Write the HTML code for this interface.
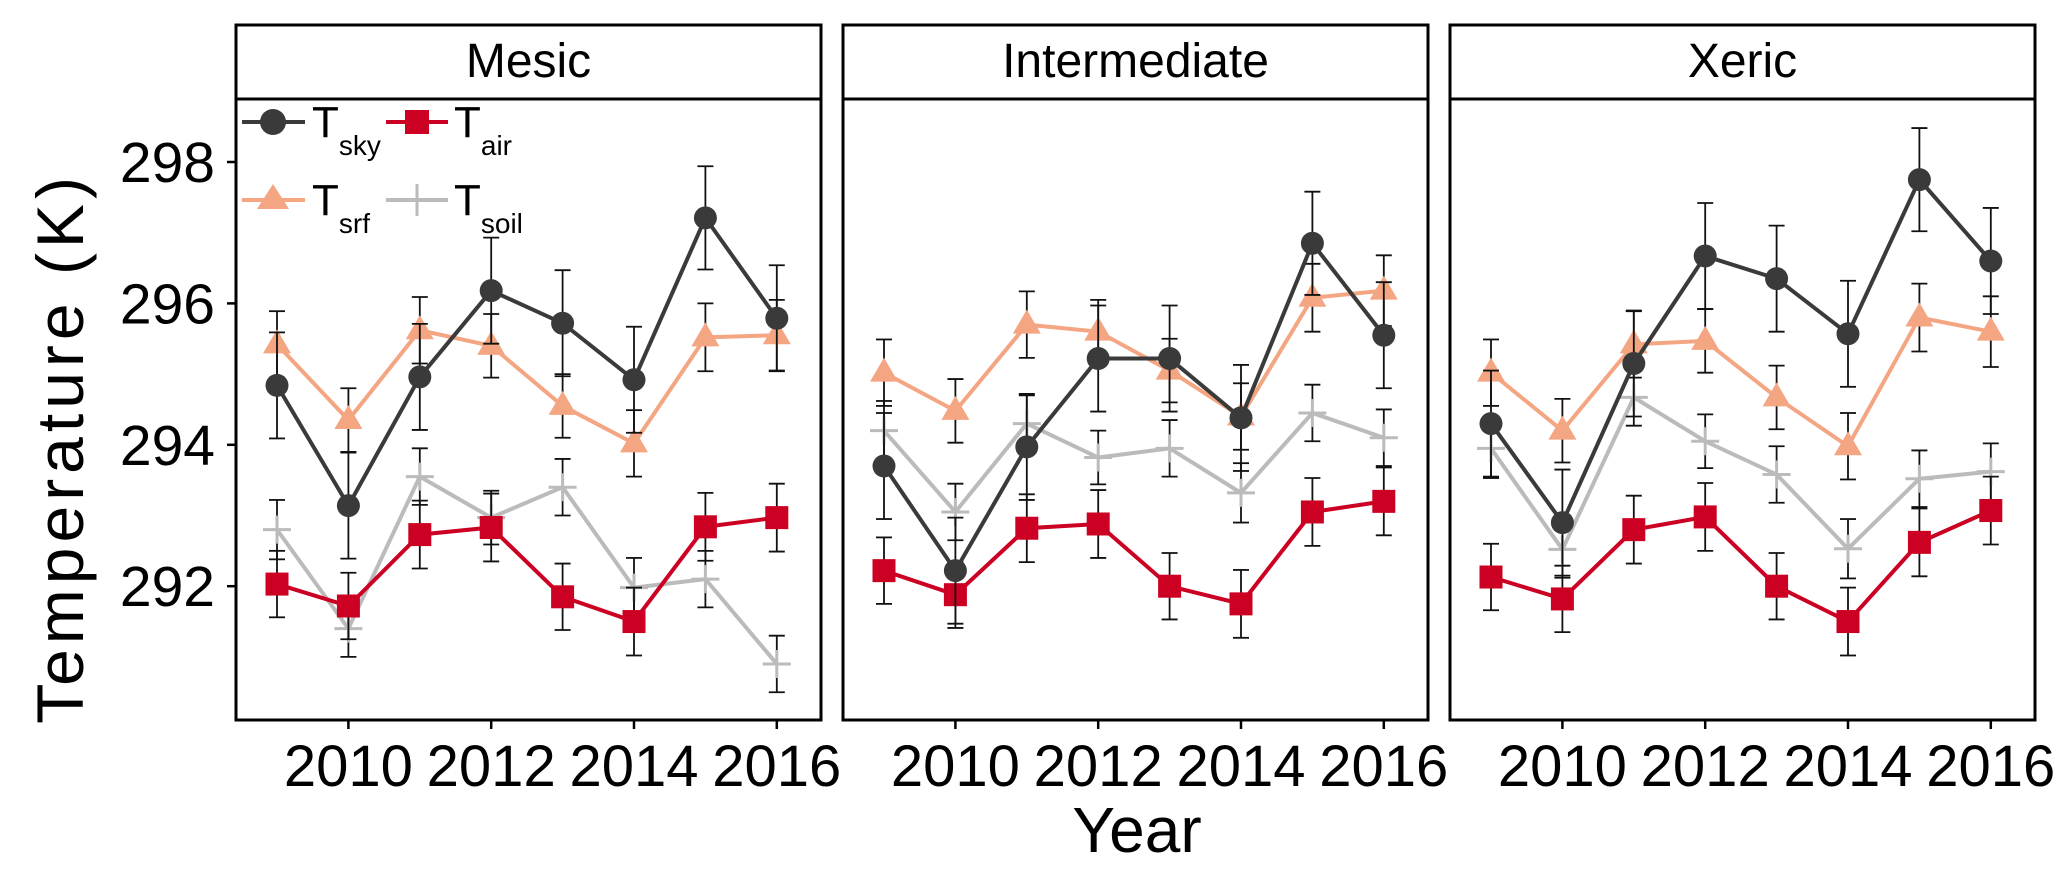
<!DOCTYPE html>
<html><head><meta charset="utf-8">
<style>
html,body{margin:0;padding:0;background:#fff;}
svg{display:block;font-family:"Liberation Sans",Arial,sans-serif;}
</style></head>
<body>
<svg id="chart" width="2067" height="871" viewBox="0 0 2067 871" xmlns="http://www.w3.org/2000/svg">
<g id="panels"></g>
<text x="60" y="448" font-size="66" text-anchor="middle" transform="rotate(-90 60 448)" dominant-baseline="central" letter-spacing="5">Temperature (K)</text>
<text x="1137" y="852" font-size="64" text-anchor="middle">Year</text>
<g>
  <g>
    <line x1="242" y1="122" x2="305" y2="122" stroke="#3a3a3a" stroke-width="4"/>
    <circle cx="273" cy="122" r="13" fill="#3a3a3a"/>
    <text x="312" y="137" font-size="44">T<tspan font-size="28" dy="18">sky</tspan></text>
  </g>
  <g>
    <line x1="386" y1="122" x2="448" y2="122" stroke="#cc0022" stroke-width="4"/>
    <rect x="405" y="110" width="24" height="24" fill="#cc0022"/>
    <text x="454" y="137" font-size="44">T<tspan font-size="28" dy="18">air</tspan></text>
  </g>
  <g>
    <line x1="242" y1="200" x2="305" y2="200" stroke="#f4a582" stroke-width="4"/>
    <polygon points="273,184 289,209 257,209" fill="#f4a582"/>
    <text x="312" y="215" font-size="44">T<tspan font-size="28" dy="18">srf</tspan></text>
  </g>
  <g>
    <line x1="386" y1="200" x2="448" y2="200" stroke="#bbbbbb" stroke-width="4"/>
    <line x1="417" y1="184" x2="417" y2="216" stroke="#bbbbbb" stroke-width="3"/>
    <text x="454" y="215" font-size="44">T<tspan font-size="28" dy="18">soil</tspan></text>
  </g>
</g>
</svg>
<script>
const years=[2009,2010,2011,2012,2013,2014,2015,2016];
const panelNames=["Mesic","Intermediate","Xeric"];
const yTicks=[292,294,296,298];
const xTicks=[2010,2012,2014,2016];
const mesicSky=[294.84,293.14,294.96,296.18,295.72,294.92,297.21,295.79];
const mesicSrf=[295.42,294.35,295.62,295.40,294.55,294.02,295.52,295.55];
const mesicAir=[292.03,291.72,292.73,292.83,291.85,291.50,292.84,292.97];
const mesicSoil=[292.80,291.40,293.55,292.97,293.40,291.98,292.10,290.90];
const interSky=[293.70,292.22,293.97,295.22,295.22,294.38,296.85,295.55];
const interSrf=[295.02,294.48,295.70,295.60,295.05,294.40,296.08,296.18];
const interAir=[292.22,291.88,292.82,292.88,292.00,291.75,293.05,293.20];
const interSoil=[294.20,293.05,294.30,293.82,293.95,293.32,294.45,294.10];
const xericSky=[294.30,292.90,295.15,296.67,296.35,295.57,297.75,296.60];
const xericSrf=[295.02,294.20,295.42,295.47,294.67,293.98,295.80,295.60];
const xericAir=[292.13,291.82,292.80,292.98,292.00,291.50,292.62,293.07];
const xericSoil=[293.95,292.52,294.67,294.05,293.58,292.53,293.52,293.62];
const errSky=[0.75,0.75,0.75,0.75,0.75,0.75,0.73,0.75];
const errSrf=[0.47,0.45,0.47,0.45,0.45,0.47,0.48,0.50];
const errAir=[0.47,0.47,0.48,0.48,0.47,0.48,0.48,0.48];
const errSoil=[0.42,0.40,0.40,0.38,0.40,0.42,0.40,0.40];

const NS="http://www.w3.org/2000/svg";
const panelsG=document.getElementById('panels');
const panelX=[236,843,1450], panelW=585;
const plotTop=99, plotBot=720, stripTop=25;
function yS(t){return 162+(298-t)*70.7;}
function xS(p,yr){return panelX[p]+41+(yr-2009)*71.4;}
function mk(tag,attrs,parent){const e=document.createElementNS(NS,tag);for(const k in attrs)e.setAttribute(k,attrs[k]);parent.appendChild(e);return e;}

const panelData=[
 [mesicSky,mesicSrf,mesicAir,mesicSoil],
 [interSky,interSrf,interAir,interSoil],
 [xericSky,xericSrf,xericAir,xericSoil]];
const seriesNames=["tsky","tsrf","tair","tsoil"];
const colors=["#3a3a3a","#f4a582","#cc0022","#bbbbbb"];
const errs=[errSky,errSrf,errAir,errSoil];
const drawOrder=[3,2,1,0];

panelNames.forEach((nm,p)=>{
  const g=mk('g',{},panelsG);
  
  
  const x0=panelX[p];
  const strip=mk('rect',{x:x0,y:stripTop,width:panelW,height:plotTop-stripTop,fill:'#fff',stroke:'#000','stroke-width':3},g);
  
  
  const st=mk('text',{x:x0+panelW/2,y:77,'font-size':48,'text-anchor':'middle'},g);
  st.textContent=nm;
  
  
  xTicks.forEach(yr=>{
    const x=xS(p,yr);
    mk('line',{x1:x,y1:plotBot,x2:x,y2:plotBot+9,stroke:'#000','stroke-width':2.5},g);
    const t=mk('text',{x:x,y:786,'font-size':58,'text-anchor':'middle'},g);
    t.textContent=yr;
    
    
  });
  if(p===0){
    yTicks.forEach(v=>{
      const y=yS(v);
      mk('line',{x1:x0-9,y1:y,x2:x0,y2:y,stroke:'#000','stroke-width':2.5},g);
      const t=mk('text',{x:215,y:y+20,'font-size':57,'text-anchor':'end'},g);
      t.textContent=v;
      
      
    });
  }
  drawOrder.forEach(s=>{
    const vals=panelData[p][s], er=errs[s], col=colors[s];
    const sg=mk('g',{},g);
    
    
    vals.forEach((v,i)=>{
      const x=xS(p,years[i]), y1=yS(v+er[i]), y2=yS(v-er[i]);
      mk('line',{x1:x,y1:y1,x2:x,y2:y2,stroke:'#111','stroke-width':1.8},sg);
      mk('line',{x1:x-8,y1:y1,x2:x+8,y2:y1,stroke:'#111','stroke-width':1.8},sg);
      mk('line',{x1:x-8,y1:y2,x2:x+8,y2:y2,stroke:'#111','stroke-width':1.8},sg);
    });
    const pts=vals.map((v,i)=>xS(p,years[i])+','+yS(v)).join(' ');
    mk('polyline',{points:pts,fill:'none',stroke:col,'stroke-width':4},sg);
    vals.forEach((v,i)=>{
      const x=xS(p,years[i]), y=yS(v);
      let m;
      if(s===0) m=mk('circle',{cx:x,cy:y,r:11.5,fill:col},sg);
      else if(s===2) m=mk('rect',{x:x-11.5,y:y-11.5,width:23,height:23,fill:col},sg);
      else if(s===1) m=mk('polygon',{points:`${x},${y-15} ${x+14},${y+9} ${x-14},${y+9}`,fill:col},sg);
      else { m=mk('path',{d:`M${x-14},${y}H${x+14}M${x},${y-14}V${y+14}`,stroke:col,'stroke-width':3,fill:'none'},sg); }
      
      
    });
  });
  const fr=mk('rect',{x:x0,y:plotTop,width:panelW,height:plotBot-plotTop,fill:'none',stroke:'#000','stroke-width':3},g);
  
  
});
</script>
</body></html>
